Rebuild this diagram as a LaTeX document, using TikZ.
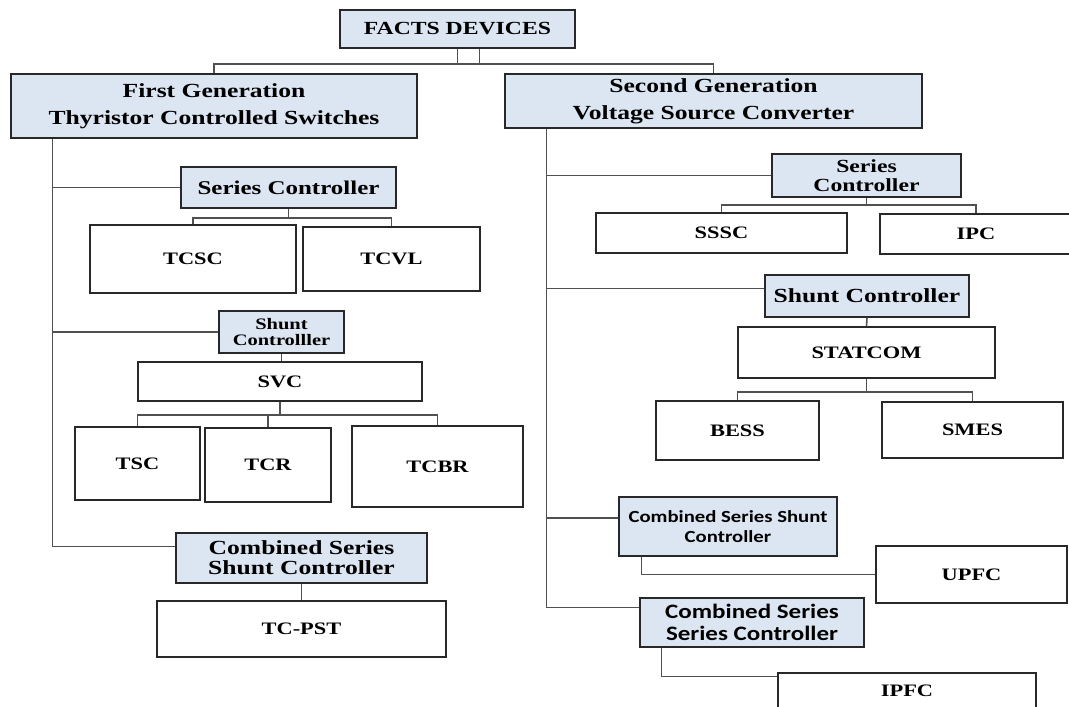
\documentclass[tikz,border=0pt]{standalone}
\usepackage{fontspec}
\setmainfont{Liberation Serif}[FakeStretch=1.28]
\newfontfamily\calfont{Carlito}[FakeStretch=1.22]
\usetikzlibrary{calc}
\definecolor{hc}{RGB}{220,230,242}
\definecolor{bc}{RGB}{40,40,40}
\definecolor{wc}{RGB}{80,80,80}
\tikzset{hd/.style={draw=bc,fill=hc,line width=1.4pt,inner sep=0pt,align=center},
 lf/.style={hd,fill=white},
 wire/.style={draw=wc,line width=1.6pt},
 fsz/.style 2 args={font=\bfseries\fontsize{#1}{#2}\selectfont},
 cfs/.style 2 args={font=\calfont\bfseries\fontsize{#1}{#2}\selectfont}}
\begin{document}
\begin{tikzpicture}[x=1pt,y=-1pt]
\path[use as bounding box,fill=white] (0,0) rectangle (1069,707);
% top level
\node[hd,fsz={18.5}{20},minimum width=235pt,minimum height=38pt] (facts) at (457.5,29) {FACTS DEVICES};
\node[hd,fsz={20}{27},minimum width=406pt,minimum height=64pt] (gen1) at (214,106) {First Generation\\Thyristor Controlled Switches};
\node[hd,fsz={20}{27},minimum width=417pt,minimum height=54pt] (gen2) at (713.5,101) {Second Generation\\Voltage Source Converter};
% first generation
\node[hd,fsz={19.5}{22},minimum width=215pt,minimum height=41pt] (sc1) at (288.5,187.5) {Series Controller};
\node[lf,fsz={17.5}{20},minimum width=206pt,minimum height=68pt] (tcsc) at (193,259) {TCSC};
\node[lf,fsz={17.5}{20},minimum width=177pt,minimum height=64pt] (tcvl) at (391.5,259) {TCVL};
\node[hd,fsz={16}{16},minimum width=125pt,minimum height=42pt] (sh1) at (281.5,332) {Shunt\\Controlller};
\node[lf,fsz={17.5}{20},minimum width=284pt,minimum height=39pt] (svc) at (280,381.5) {SVC};
\node[lf,fsz={17.5}{20},minimum width=125pt,minimum height=73pt] (tsc) at (137.5,463.5) {TSC};
\node[lf,fsz={17.5}{20},minimum width=126pt,minimum height=74pt] (tcr) at (268,465) {TCR};
\node[lf,fsz={17.5}{20},minimum width=171pt,minimum height=81pt] (tcbr) at (437.5,466.5) {TCBR};
\node[hd,fsz={20}{20},minimum width=251pt,minimum height=50pt] (comb1) at (301.5,558) {Combined Series\\Shunt Controller};
\node[lf,fsz={17.5}{20},minimum width=289pt,minimum height=56pt] (tcpst) at (301.5,629) {TC-PST};
% second generation
\node[hd,fsz={18.5}{19},minimum width=189pt,minimum height=43pt] (sc2) at (866.5,175.5) {Series\\Controller};
\node[lf,fsz={17.5}{20},minimum width=251pt,minimum height=40pt] (sssc) at (721.5,233) {SSSC};
\node[lf,fsz={17.5}{20},minimum width=192pt,minimum height=40pt] (ipc) at (976,234) {IPC};
\node[hd,fsz={20}{22},minimum width=204pt,minimum height=42pt] (sh2) at (867,296) {Shunt Controller};
\node[lf,fsz={17.5}{20},minimum width=257pt,minimum height=51pt] (statcom) at (866.5,352.5) {STATCOM};
\node[lf,fsz={17.5}{20},minimum width=163pt,minimum height=59pt] (bess) at (737.5,430.5) {BESS};
\node[lf,fsz={17.5}{20},minimum width=181pt,minimum height=56pt] (smes) at (972.5,430) {SMES};
\node[hd,cfs={17}{20},minimum width=218pt,minimum height=59pt] (cssh2) at (728,526.5) {Combined Series Shunt\\Controller};
\node[lf,fsz={17.5}{20},minimum width=191pt,minimum height=57pt] (upfc) at (971.5,574.5) {UPFC};
\node[hd,cfs={20.5}{22},minimum width=224pt,minimum height=49pt] (csse2) at (752,622.5) {Combined Series\\Series Controller};
\node[lf,fsz={17.5}{20},minimum width=258pt,minimum height=36pt] (ipfc) at (907,691) {IPFC};
% wires from the root
\coordinate (bus) at ($(facts.south)+(0,15)$);
\draw[wire] (facts.south)--(bus);\draw[wire] ($(facts.south)+(22,0)$)--++(0,15);
\draw[wire] (gen1.north)|-(bus)-|(gen2.north);
% left trunk
\coordinate (t1) at ($(gen1.south west)+(42,0)$);
\draw[wire] (t1)|-($(comb1.north west)!.28!(comb1.south west)$);
\draw[wire] (sc1.west)--(sc1.west-|t1);\draw[wire] (sh1.west)--(sh1.west-|t1);
\draw[wire] (sc1.south)--++(0,9)-|(tcsc.north);\draw[wire] (sc1.south)++(0,9)-|(tcvl.north);
\draw[wire] (sh1.south)--(sh1.south|-svc.north);
\draw[wire] (svc.south)--++(0,13)-|(tsc.north);\draw[wire] (svc.south)++(0,13)-|(tcr.north);
\draw[wire] (svc.south)++(0,13)-|(tcbr.north);
\draw[wire] (comb1.south)--(tcpst.north);
% right trunk
\coordinate (t2) at ($(gen2.south west)+(42,0)$);
\coordinate (c2) at ($(sh2.north west)!.33!(sh2.south west)$);
\coordinate (c3) at ($(cssh2.north west)!.36!(cssh2.south west)$);
\draw[wire] (t2)|-($(csse2.north west)!.2!(csse2.south west)$);
\draw[wire] (sc2.west)--(sc2.west-|t2);\draw[wire] (c2)--(c2-|t2);\draw[wire] (c3)--(c3-|t2);
\draw[wire] (sc2.south)--++(0,7)-|(sssc.north);\draw[wire] (sc2.south)++(0,7)-|(ipc.north);
\draw[wire] (sh2.south)--(statcom.north);
\draw[wire] (statcom.south)--++(0,13)-|(bess.north);\draw[wire] (statcom.south)++(0,13)-|(smes.north);
\draw[wire] ($(cssh2.south west)+(23,0)$)|-(upfc.west);
\draw[wire] ($(csse2.south west)+(22,0)$)|-($(ipfc.north west)+(0,4)$);
\end{tikzpicture}
\end{document}
